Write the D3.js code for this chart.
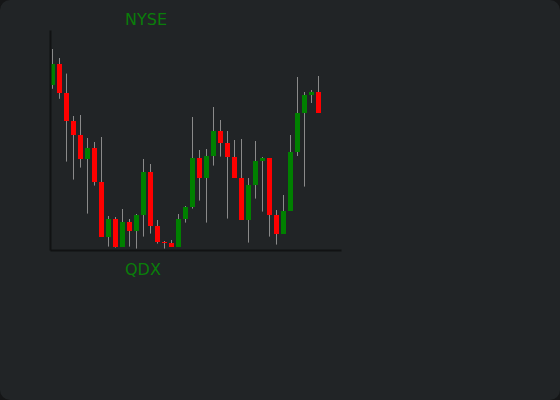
<!DOCTYPE html>
<html>
<head>
<meta charset="utf-8">
<script src="https://cdn.jsdelivr.net/npm/d3@7"></script>
<style>
  html, body { margin: 0; padding: 0; background: #151617; }
  svg { display: block; }
</style>
</head>
<body>
<svg id="chart" width="560" height="400"></svg>
<script>
// ---- data ----
const days   = d3.range(1, 40).map(i => "D" + i);
const opens  = [122.6,133,118.5,104.5,97.5,85.7,91,74,46.7,55.5,41.7,54,49.5,57.7,79,52,44.1,43.5,41.7,55.7,61.7,86,76.2,87.2,99.5,93.5,86.5,76,55.2,72.7,84.7,86,57.5,48.2,59.7,89.2,108.7,117.5,119];
const highs  = [140.5,136,128.2,107,107.5,96,94,96.5,57,56.5,60.5,55.5,58,85.5,83,55,44.5,45,58,62,106.5,90,90.5,111.5,105,99.5,95,95.5,76,94.5,86.5,86,60,67.5,97.5,126.5,119,120,127];
const lows   = [120.6,115.6,84.2,75.2,81.2,58.2,72.2,46.7,41.7,41.2,41.7,41.7,40.7,46.7,48.2,43.2,40.7,41.7,41.7,53.7,60.7,64.7,53.7,82.2,86.7,55.7,76.2,55.2,43.7,65.7,59.2,46.7,42.7,48.2,59.7,87,71.7,113.5,108.7];
const closes = [133,118.6,104.7,97.7,85.7,91,74.2,46.7,55.5,41.7,54,49.5,57.5,79,52.2,44.2,43.7,41.7,55.5,61.5,86,76.2,87,99.5,93.7,86.7,76.2,55.2,72.5,84.5,86,57.7,48.2,59.5,89,108.5,117.5,119,108.7];
const priceDomain = [40, 150];
const titleText = "NYSE";
const xLabelText = "QDX";

(function () {
const candles = days.map((d, i) => ({ day: d, open: opens[i], high: highs[i], low: lows[i], close: closes[i] }));

const svg = d3.select("#chart");
svg.append("rect").attr("x", 0).attr("y", 0).attr("width", 560).attr("height", 400)
   .attr("rx", 10).attr("ry", 10).attr("fill", "#212426");

const mLeft = 50, mRight = 341, mTop = 30, mBottom = 250;

const x = d3.scaleBand().domain(days).range([mLeft, 321]).paddingInner(2 / 7).paddingOuter(0);
const y = d3.scaleLinear().domain(priceDomain).range([mBottom, mTop]);
const xAxisScale = d3.scaleLinear().domain([0, 1]).range([mLeft, mRight]);

// wicks
svg.append("g").selectAll("line").data(candles).join("line")
  .attr("x1", d => x(d.day) + x.bandwidth() / 2)
  .attr("x2", d => x(d.day) + x.bandwidth() / 2)
  .attr("y1", d => y(d.high))
  .attr("y2", d => y(d.low))
  .attr("stroke", "#8a8a8a")
  .attr("stroke-width", 1);

// bodies
svg.append("g").selectAll("rect").data(candles).join("rect")
  .attr("x", d => x(d.day))
  .attr("width", x.bandwidth())
  .attr("y", d => y(Math.max(d.open, d.close)))
  .attr("height", d => Math.max(1, Math.abs(y(d.open) - y(d.close))))
  .attr("fill", d => d.close >= d.open ? "#008000" : "#ff0000")
  .attr("shape-rendering", "crispEdges");

// axes
svg.append("g").attr("transform", `translate(0,${mBottom})`)
  .call(d3.axisBottom(xAxisScale).tickValues([]).tickSizeOuter(0));
svg.append("g").attr("transform", `translate(${mLeft},0)`)
  .call(d3.axisLeft(y).tickValues([]).tickSizeOuter(0));
svg.selectAll(".domain").attr("stroke", "#111213").attr("stroke-width", 2);

// texts
svg.append("text").attr("x", 125).attr("y", 25)
  .attr("font-family", "DejaVu Sans, sans-serif").attr("font-size", 16)
  .attr("fill", "#0a7d0a").text(titleText);
svg.append("text").attr("x", 125).attr("y", 275)
  .attr("font-family", "DejaVu Sans, sans-serif").attr("font-size", 16)
  .attr("fill", "#0a7d0a").text(xLabelText);
})();
</script>
</body>
</html>
